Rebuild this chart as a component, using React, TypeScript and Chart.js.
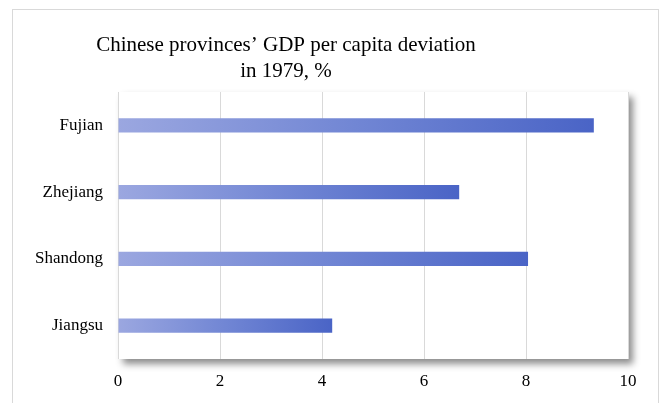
import React, { useEffect, useRef } from "react";
import { Chart, registerables } from "chart.js";

Chart.register(...registerables);

const categories = ["Fujian", "Zhejiang", "Shandong", "Jiangsu"];
const values = [9.33, 6.69, 8.04, 4.2];
const titleLines = ["Chinese provinces\u2019 GDP per capita deviation", "in 1979, %"];
const xTicks = [0, 2, 4, 6, 8, 10];

const FONT = "'Liberation Serif', 'Times New Roman', serif";

const plotShadow = {
  id: "plotShadow",
  beforeDraw(chart: any) {
    const { ctx, chartArea } = chart;
    ctx.save();
    ctx.shadowColor = "rgba(0,0,0,0.45)";
    ctx.shadowBlur = 7;
    ctx.shadowOffsetX = 5;
    ctx.shadowOffsetY = 5;
    ctx.fillStyle = "#ffffff";
    ctx.fillRect(chartArea.left, chartArea.top, chartArea.right - chartArea.left, chartArea.bottom - chartArea.top);
    ctx.restore();
  },
};

const titlePlugin = {
  id: "customTitle",
  afterDraw(chart: any) {
    const { ctx } = chart;
    ctx.save();
    ctx.fillStyle = "#000000";
    ctx.font = `21px ${FONT}`;
    ctx.textAlign = "center";
    ctx.textBaseline = "alphabetic";
    ctx.fillText(titleLines[0], 286, 51);
    ctx.fillText(titleLines[1], 286, 77);
    ctx.restore();
  },
};

export default function App() {
  const ref = useRef<HTMLCanvasElement>(null);
  useEffect(() => {
    if (!ref.current) return;
    const chart = new Chart(ref.current, {
      type: "bar",
      data: {
        labels: categories,
        datasets: [
          {
            data: values,
            backgroundColor: (c: any) => {
              const chart = c.chart;
              const xs = chart.scales?.x;
              if (!xs || c.dataIndex === undefined) return "#5a71cb";
              const x0 = xs.getPixelForValue(0);
              const x1 = xs.getPixelForValue(values[c.dataIndex]);
              if (!isFinite(x0) || !isFinite(x1) || x1 === x0) return "#5a71cb";
              const g = chart.ctx.createLinearGradient(x0, 0, x1, 0);
              g.addColorStop(0, "#9ba7e0");
              g.addColorStop(0.5, "#7186d4");
              g.addColorStop(1, "#4a64c6");
              return g;
            },
            borderWidth: 0,
            barPercentage: 0.42,
            categoryPercentage: 0.5,
          },
        ],
      },
      options: {
        indexAxis: "y",
        animation: false,
        responsive: false,
        maintainAspectRatio: false,
        layout: { padding: { top: 92, right: 37, bottom: 0, left: 0 } },
        plugins: { legend: { display: false }, title: { display: false }, tooltip: { enabled: false } },
        scales: {
          x: {
            min: 0,
            max: 10,
            afterBuildTicks: (s: any) => {
              s.ticks = xTicks.map((v) => ({ value: v }));
            },
            afterFit: (s: any) => {
              s.height = 44;
            },
            grid: { color: "#d9d9d9", lineWidth: 1, drawTicks: false },
            border: { display: false },
            ticks: { color: "#000", font: { family: FONT, size: 17 }, padding: 12 },
          },
          y: {
            afterFit: (s: any) => {
              s.width = 118;
            },
            grid: { display: false, drawTicks: false },
            border: { display: false },
            ticks: { color: "#000", font: { family: FONT, size: 17 }, padding: 15 },
          },
        },
      },
      plugins: [plotShadow, titlePlugin],
    } as any);
    return () => chart.destroy();
  }, []);

  return (
    <div style={{ position: "fixed", left: 0, top: 0, width: 665, height: 403, background: "#fff", overflow: "hidden" }}>
      <div
        style={{
          position: "absolute",
          left: 12,
          top: 9,
          width: 647,
          height: 460,
          border: "1px solid #d9d9d9",
          boxSizing: "border-box",
        }}
      />
      <canvas ref={ref} width={665} height={403} style={{ position: "absolute", left: 0, top: 0, width: 665, height: 403 }} />
    </div>
  );
}
